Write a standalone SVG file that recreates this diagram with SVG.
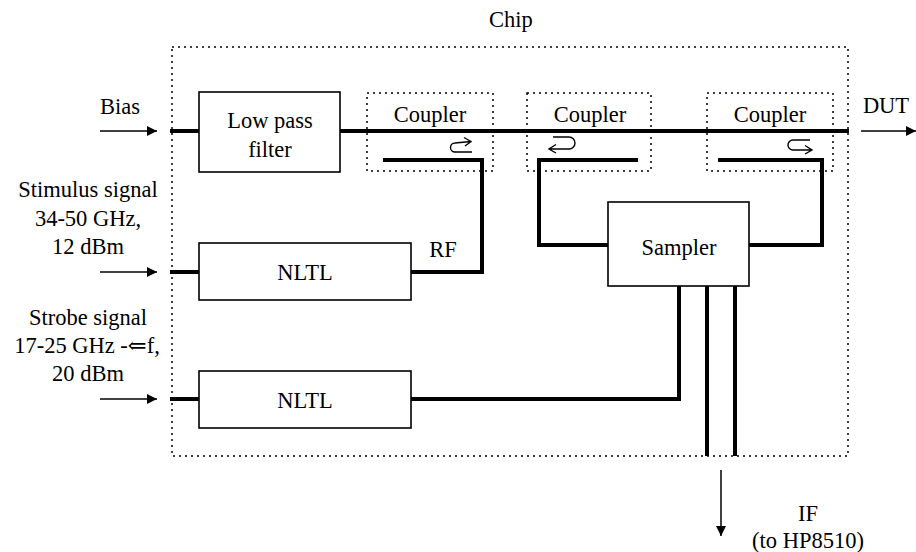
<svg xmlns="http://www.w3.org/2000/svg" width="916" height="552" viewBox="0 0 916 552">
  <defs>
    <marker id="head" viewBox="0 0 10 10" refX="10" refY="5" markerWidth="10" markerHeight="10" markerUnits="userSpaceOnUse" orient="auto">
      <path d="M0,0 L10,5 L0,10 Z" fill="#000"/>
    </marker>
    <style>
      text { font-family: "Liberation Serif", "DejaVu Serif", "Times New Roman", serif; font-size: 22.5px; fill: #000; }
      .c { text-anchor: middle; }
      .box { fill: #fff; stroke: #000; stroke-width: 1.6; }
      .dot { fill: none; stroke: #000; stroke-width: 1.5; stroke-dasharray: 2 4; }
      .wire { fill: none; stroke: #000; stroke-width: 4; stroke-linejoin: miter; stroke-linecap: butt; }
      .arrow { fill: none; stroke: #000; stroke-width: 1.5; }
      .hook { fill: none; stroke: #000; stroke-width: 1.4; }
    </style>
  </defs>

  <rect width="916" height="552" fill="#fff"/>

  <!-- chip outline -->
  <g id="chip">
    <rect class="dot" x="172" y="47" width="676" height="409"/>
    <text class="c" x="511" y="27">Chip</text>
  </g>

  <!-- connectors -->
  <g id="connectors">
    <!-- external input / output arrows -->
    <line class="arrow" x1="100" y1="131" x2="157" y2="131" marker-end="url(#head)"/>
    <line class="arrow" x1="100" y1="272" x2="157" y2="272" marker-end="url(#head)"/>
    <line class="arrow" x1="100" y1="399" x2="157" y2="399" marker-end="url(#head)"/>
    <line class="arrow" x1="861" y1="131" x2="916" y2="131" marker-end="url(#head)"/>
    <line class="arrow" x1="721" y1="470" x2="721" y2="536" marker-end="url(#head)"/>

    <!-- through line -->
    <line class="wire" x1="170" y1="131" x2="199" y2="131"/>
    <line class="wire" x1="340" y1="131" x2="849" y2="131"/>

    <!-- coupled lines -->
    <polyline class="wire" points="383,160 482,160 482,272 411,272"/>
    <polyline class="wire" points="638,160 539,160 539,245 608,245"/>
    <polyline class="wire" points="718,160 822,160 822,245 749,245"/>

    <!-- NLTL inputs -->
    <line class="wire" x1="170" y1="272" x2="199" y2="272"/>
    <line class="wire" x1="170" y1="399" x2="199" y2="399"/>

    <!-- strobe into sampler -->
    <polyline class="wire" points="411,399 679,399 679,286"/>

    <!-- IF outputs -->
    <line class="wire" x1="707" y1="286" x2="707" y2="456"/>
    <line class="wire" x1="735" y1="286" x2="735" y2="456"/>

    <!-- coupling direction marks -->
    <path class="hook" d="M472,152 H455 A4.5,4.5 0 0 1 455,143 L471,141.5 M464,137.5 L471,141.5 L465,146"/>
    <path class="hook" d="M553,137 H569 A6,6 0 0 1 569,149 H549 M556,144.5 L549,149 L556,153"/>
    <path class="hook" d="M810,140 H793 A5,5 0 0 0 793,150 H812 M805,145.5 L812,150 L805,154"/>
  </g>

  <g id="lowpass">
    <rect class="box" x="199" y="92" width="141" height="80"/>
    <text class="c" x="270" y="128">Low pass</text>
    <text class="c" x="270" y="157">filter</text>
  </g>

  <g id="coupler1">
    <rect class="dot" x="367" y="93" width="126" height="78"/>
    <text class="c" x="430" y="122">Coupler</text>
  </g>
  <g id="coupler2">
    <rect class="dot" x="527" y="93" width="124" height="78"/>
    <text class="c" x="590" y="122">Coupler</text>
  </g>
  <g id="coupler3">
    <rect class="dot" x="707" y="93" width="126" height="78"/>
    <text class="c" x="770" y="122">Coupler</text>
  </g>

  <g id="nltl1">
    <rect class="box" x="199" y="243" width="212" height="57"/>
    <text class="c" x="305" y="280">NLTL</text>
  </g>
  <g id="nltl2">
    <rect class="box" x="199" y="371" width="212" height="57"/>
    <text class="c" x="305" y="408">NLTL</text>
  </g>

  <g id="sampler">
    <rect class="box" x="608" y="202" width="141" height="84"/>
    <text class="c" x="679" y="255">Sampler</text>
  </g>

  <!-- labels -->
  <g id="labels">
    <text class="c" x="120" y="114">Bias</text>
    <text class="c" x="88" y="197">Stimulus signal</text>
    <text class="c" x="88" y="226">34-50 GHz,</text>
    <text class="c" x="88" y="254">12 dBm</text>
    <text class="c" x="88" y="325">Strobe signal</text>
    <text class="c" x="87" y="353">17-25 GHz -⇐f,</text>
    <text class="c" x="88" y="381">20 dBm</text>
    <text class="c" x="886" y="113">DUT</text>
    <text class="c" x="443" y="257">RF</text>
    <text class="c" x="808" y="521">IF</text>
    <text class="c" x="808" y="548">(to HP8510)</text>
  </g>
</svg>
